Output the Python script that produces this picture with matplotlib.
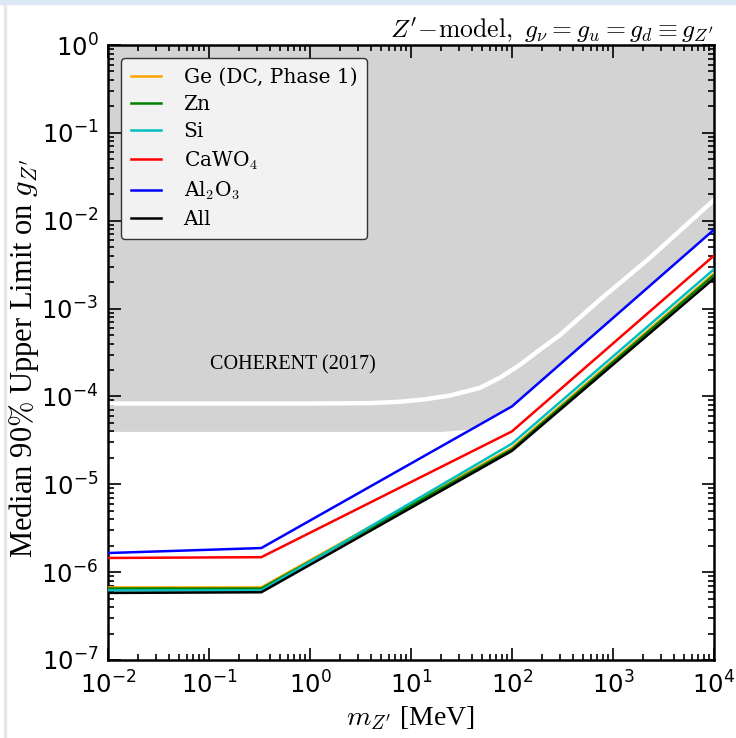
import matplotlib

matplotlib.use("Agg")

import matplotlib.pyplot as plt  # noqa: E402
from matplotlib.patches import Rectangle  # noqa: E402

plt.rcParams["mathtext.fontset"] = "cm"
plt.rcParams["font.family"] = ["DejaVu Serif"]

# Projected median 90% upper limits (kinks at ~0.33 MeV and 100 MeV)
mass = [1e-2, 0.33, 100, 1e4]
lim_ge = [6.7e-7, 6.7e-7, 2.6e-5, 2.5e-3]
lim_zn = [6.5e-7, 6.5e-7, 2.5e-5, 2.4e-3]
lim_si = [6.2e-7, 6.2e-7, 2.9e-5, 2.8e-3]
lim_cawo4 = [1.45e-6, 1.48e-6, 4.0e-5, 4.0e-3]
lim_al2o3 = [1.65e-6, 1.88e-6, 7.7e-5, 7.9e-3]
lim_all = [5.8e-7, 5.9e-7, 2.4e-5, 2.2e-3]

# COHERENT (2017) excluded region and its edge line
coh_mass = [1e-2, 1.0, 4.0, 7.8, 14, 24, 48, 76, 120, 189, 299, 743, 2323, 1e4]
coh_line = [8.3e-5, 8.3e-5, 8.4e-5, 8.7e-5, 9.3e-5, 1.02e-4, 1.25e-4, 1.63e-4,
            2.29e-4, 3.4e-4, 5.0e-4, 1.26e-3, 3.78e-3, 1.72e-2]
coh_low_mass = [1e-2, 20, 35, 100, 1e4]
coh_low = [4.0e-5, 4.0e-5, 4.2e-5, 7.7e-5, 7.9e-3]

series = [
    ("Ge (DC, Phase 1)", lim_ge, "orange"),
    ("Zn", lim_zn, "green"),
    ("Si", lim_si, "c"),
    (r"CaWO$_4$", lim_cawo4, "red"),
    (r"Al$_2$O$_3$", lim_al2o3, "blue"),
    ("All", lim_all, "black"),
]

fig = plt.figure(figsize=(7.36, 7.38), dpi=100)
# screenshot frame: light blue strip on top, faint line on the left
fig.patches.append(Rectangle((0, 0.995), 1, 0.005, transform=fig.transFigure,
                             color="#dce8f5", zorder=-1))
fig.patches.append(Rectangle((0.006, 0), 0.0015, 0.995, transform=fig.transFigure,
                             color="#e6e6e6", zorder=-1))

ax = fig.add_axes([0.1467, 0.1057, 0.8233, 0.8333])
ax.set_xscale("log")
ax.set_yscale("log")

ax.fill_between(coh_low_mass, coh_low, 1.0, color="lightgray", lw=0, zorder=1)
ax.plot(coh_mass, coh_line, color="white", lw=3.2, zorder=2,
        solid_joinstyle="round")
ax.text(0.68, 2.3e-4, "COHERENT (2017)", fontsize=14.5, family="Liberation Serif",
        ha="center", va="center", zorder=3)

for label, vals, col in series:
    ax.plot(mass, vals, color=col, lw=1.8, label=label, zorder=4)

ax.set_xlim(1e-2, 1e4)
ax.set_ylim(1e-7, 1e0)

xt = [10.0 ** k for k in range(-2, 5)]
yt = [10.0 ** k for k in range(-7, 1)]
ax.set_xticks(xt, [r"$\mathdefault{10^{%d}}$" % k for k in range(-2, 5)],
              fontfamily="DejaVu Sans", fontsize=17.5)
ax.set_yticks(yt, [r"$\mathdefault{10^{%d}}$" % k for k in range(-7, 1)],
              fontfamily="DejaVu Sans", fontsize=17.5)
ax.tick_params(which="both", direction="in", top=True, right=True, width=1.2)
ax.tick_params(which="major", length=9)
ax.tick_params(axis="x", which="major", pad=8)
ax.tick_params(axis="y", which="major", pad=7)
ax.tick_params(which="minor", length=4.5)
for s in ax.spines.values():
    s.set_linewidth(1.8)

ax.set_xlabel(r"$m_{Z^\prime}$ [MeV]", fontsize=20, family="Liberation Serif")
ax.set_ylabel(r"Median 90$\%$ Upper Limit on $g_{Z^\prime}$", fontsize=22,
              family="Liberation Serif")
ax.yaxis.set_label_coords(-0.11, 0.49)
ax.set_title(r"$Z^\prime\!-\!{\rm model},\ g_\nu = g_u = g_d \equiv g_{Z^\prime}$",
             loc="right", fontsize=18.5, pad=4)

leg = ax.legend(loc="upper left", fontsize=14.5, frameon=True, fancybox=True,
                handlelength=1.5, handletextpad=1.1, borderpad=0.5,
                labelspacing=0.4, bbox_to_anchor=(0.005, 0.995))
leg.get_frame().set_facecolor("#f2f2f2")
leg.get_frame().set_edgecolor("#333333")
leg.get_frame().set_alpha(1.0)
leg.set_zorder(6)

fig.savefig("out.png", dpi=100)
